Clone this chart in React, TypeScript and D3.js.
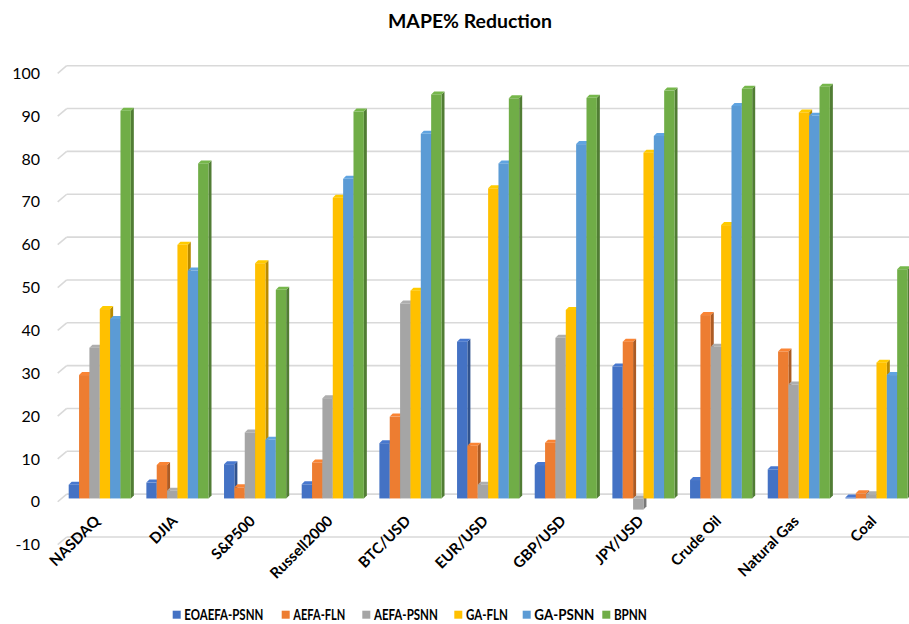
import React from "react";
import * as d3 from "d3";

const categories = [
  "NASDAQ", "DJIA", "S&P500", "Russell2000", "BTC/USD", "EUR/USD",
  "GBP/USD", "JPY/USD", "Crude Oil", "Natural Gas", "Coal",
];

const seriesNames = ["EOAEFA-PSNN", "AEFA-FLN", "AEFA-PSNN", "GA-FLN", "GA-PSNN", "BPNN"];

const eoaefaPsnn = [3.2, 3.7, 8.0, 3.3, 12.9, 36.6, 7.8, 30.8, 4.3, 6.8, 0.2];
const aefaFln = [28.8, 7.8, 2.6, 8.4, 19.1, 12.3, 13.0, 36.6, 42.8, 34.3, 1.2];
const aefaPsnn = [35.2, 1.8, 15.4, 23.4, 45.5, 3.2, 37.5, -2.6, 35.4, 26.6, 1.0];
const gaFln = [44.2, 59.2, 54.9, 70.2, 48.5, 72.4, 44.0, 80.7, 63.8, 90.1, 31.7];
const gaPsnn = [41.9, 53.2, 13.7, 74.6, 85.1, 78.2, 82.7, 84.6, 91.6, 89.3, 28.8];
const bpnn = [90.5, 78.2, 48.7, 90.3, 94.3, 93.4, 93.5, 95.2, 95.6, 96.1, 53.5];

const yTicks = [-10, 0, 10, 20, 30, 40, 50, 60, 70, 80, 90, 100];

const seriesValues = [eoaefaPsnn, aefaFln, aefaPsnn, gaFln, gaPsnn, bpnn];
const colors = ["#4472C4", "#ED7D31", "#A5A5A5", "#FFC000", "#5B9BD5", "#70AD47"];
// legend layout: swatch x and label widths
const legendX = [172.7, 281.7, 362.3, 454.3, 522.7, 602.3];
const legendW = [79, 52, 64, 42, 60, 33];

const W = 909;
const H = 624;

// back wall of the 3D plot
const yBack = d3.scaleLinear().domain([-10, 100]).range([537, 65.7]);
// depth offsets: floor edge and bar front plane
const wallDx = 9;
const wallDy = 7.6;
const barShift = 4.3;
const barDx = 3;
const barDy = 3;
const yFront = (v: number) => yBack(v) + barShift;

const xGroup = d3
  .scaleBand<string>()
  .domain(categories)
  .range([60.93, 915.3])
  .paddingInner(0.2)
  .paddingOuter(0.1);

const xSeries = d3
  .scaleBand<string>()
  .domain(seriesNames)
  .range([0, xGroup.bandwidth()])
  .padding(0);

const font = "Lato, 'Open Sans', sans-serif";

export default function App() {
  const bw = xSeries.bandwidth();
  const y0 = yFront(0);
  return (
    <svg
      width={W}
      height={H}
      style={{ position: "absolute", left: 0, top: 0, background: "#fff" }}
      fontFamily={font}
    >
      <text
        x={470}
        y={28}
        textAnchor="middle"
        fontSize={19}
        fontWeight={700}
        fill="#000"
        textLength={164}
        lengthAdjust="spacingAndGlyphs"
      >
        MAPE% Reduction
      </text>

      {/* gridlines with their floor slant */}
      {yTicks.map((t) => (
        <g key={t}>
          <line x1={66.7} x2={W} y1={yBack(t)} y2={yBack(t)} stroke="#d9d9d9" strokeWidth={1.6} />
          <line
            x1={66.7 - wallDx}
            x2={66.7}
            y1={yBack(t) + wallDy}
            y2={yBack(t)}
            stroke="#d9d9d9"
            strokeWidth={1.6}
          />
          <text
            x={40}
            y={yBack(t) + wallDy}
            dy="0.35em"
            textAnchor="end"
            fontSize={16}
            fill="#000"
          >
            {t}
          </text>
        </g>
      ))}

      {/* 3D columns */}
      {categories.map((c, ci) => {
        const gx = xGroup(c)!;
        return (
          <g key={c}>
            {seriesNames.map((s, si) => {
              const v = seriesValues[si][ci];
              const x0 = gx + xSeries(s)!;
              const x1 = x0 + bw;
              const yv = yFront(v);
              const col = d3.color(colors[si])!;
              const side = col.darker(0.9).formatHex();
              const top = col.brighter(0.15).formatHex();
              const frontTop = Math.min(yv, y0);
              const frontBot = Math.max(yv, y0);
              return (
                <g key={s}>
                  <polygon
                    points={`${x1},${frontTop} ${x1 + barDx},${frontTop - barDy} ${x1 + barDx},${frontBot - barDy} ${x1},${frontBot}`}
                    fill={side}
                  />
                  <polygon
                    points={`${x0},${frontTop} ${x0 + barDx},${frontTop - barDy} ${x1 + barDx},${frontTop - barDy} ${x1},${frontTop}`}
                    fill={top}
                  />
                  <rect x={x0} y={frontTop} width={bw} height={frontBot - frontTop} fill={colors[si]} />
                </g>
              );
            })}
          </g>
        );
      })}

      {/* category labels */}
      {categories.map((c) => {
        const cx = xGroup(c)! + xGroup.bandwidth() / 2;
        return (
          <text
            key={c}
            transform={`translate(${cx + 1},${522}) rotate(-45)`}
            textAnchor="end"
            fontSize={15}
            fontWeight={700}
            fill="#000"
          >
            {c}
          </text>
        );
      })}

      {/* legend */}
      {seriesNames.map((s, i) => (
        <g key={s}>
          <rect x={legendX[i]} y={610.7} width={8} height={8} fill={colors[i]} />
          <text
            x={legendX[i] + 11.6}
            y={614.7}
            dy="0.35em"
            fontSize={14.5}
            fontWeight={700}
            fill="#000"
            textLength={legendW[i]}
            lengthAdjust="spacingAndGlyphs"
          >
            {s}
          </text>
        </g>
      ))}
    </svg>
  );
}
